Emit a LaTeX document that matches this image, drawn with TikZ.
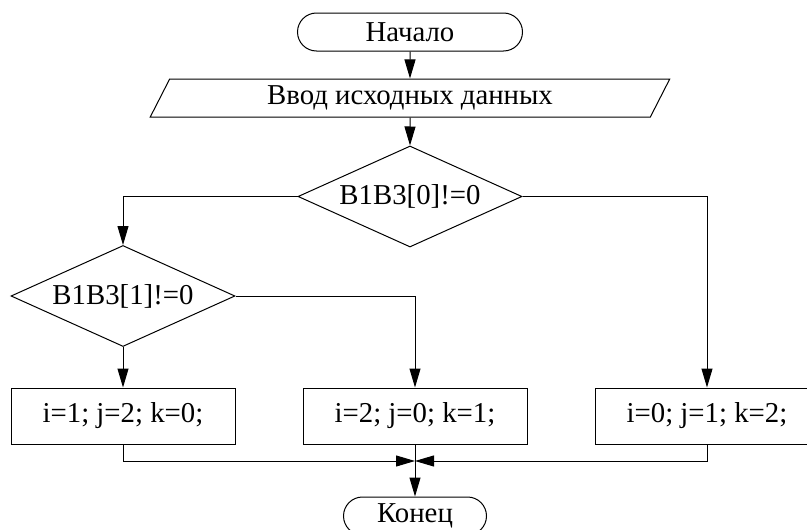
\documentclass[tikz,border=0pt]{standalone}
\usepackage{fontspec}
\setmainfont{Liberation Serif}
\usetikzlibrary{arrows.meta,shapes.geometric,shapes.misc,positioning}

\begin{document}
\begin{tikzpicture}[x=1pt,y=-1pt,line width=1pt,
    >={Triangle[length=19pt,width=11pt]},
    every node/.style={font=\fontsize{28.8}{34}\selectfont,inner sep=0pt},
    term/.style={draw,rounded rectangle,minimum height=38pt},
    proc/.style={draw,rectangle,minimum width=224pt,minimum height=56pt},
    cond/.style={draw,diamond,aspect=2.2,minimum width=224pt,minimum height=101pt},
    io/.style={draw,trapezium,trapezium left angle=64.7,trapezium right angle=115.3,
      trapezium stretches=true,minimum width=520pt,minimum height=38pt}]
    \useasboundingbox (0,0) rectangle (807,530);
    \node[term,minimum width=225pt] (nach) at (410,32) {Начало};
    \node[io] (vvod) at (410,98) {Ввод исходных данных};
    \node[cond] (c0) at (410,196.5) {B1B3[0]!=0};
    \node[cond] (c1) at (123,296) {B1B3[1]!=0};
    \node[proc] (p1) at (123,416) {i=1; j=2; k=0;};
    \node[proc] (p2) at (415,416) {i=2; j=0; k=1;};
    \node[proc] (p3) at (707,416) {i=0; j=1; k=2;};
    \node[term,minimum width=143pt] (kon) at (415,516) {Конец};
    \coordinate (sl) at (415,461);
    \draw[->]
    (nach) edge (vvod)
    (vvod) edge (c0)
    (c0.west) -| (c1.north);
    \draw[->] (c0.east) -| (p3.north);
    \draw[->] (c1.east) -| (p2.north);
    \draw[->] (c1.south) -- (p1.north);
    \draw[->] (p1.south) |- (sl);
    \draw[->] (p3.south) |- (sl);
    \draw[->] (p2.south) -- (kon.north);
  \end{tikzpicture}
\end{document}
